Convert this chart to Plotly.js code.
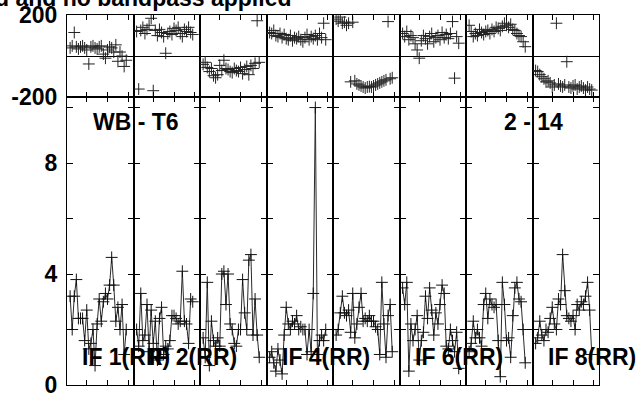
<!DOCTYPE html>
<html>
<head>
<meta charset="utf-8">
<script src="https://cdn.plot.ly/plotly-3.0.1.min.js"></script>
<style>
  html, body { margin: 0; padding: 0; background: #fff; }
  #chart { width: 642px; height: 394px; }
</style>
</head>
<body>
<div id="chart"></div>
<script>
// ---- data ----
const channels = [2,3,4,5,6,7,8,9,10,11,12,13,14,15,16,17,18,19,20,21,22,23,24,25,26,27,28,29];
const ifNames = ['IF 1(RR)', 'IF 2(RR)', 'IF 3(RR)', 'IF 4(RR)', 'IF 5(RR)', 'IF 6(RR)', 'IF 7(RR)', 'IF 8(RR)'];
const ifLabelShown = [true, true, false, true, false, true, false, true];

const amp1 = [3.2, 2.0, 3.2, 3.8, 2.4, 2.4, 2.4, 1.6, 2.7, 1.3, 1.5, 2.0, 0.7, 2.2, 3.1, 2.3, 3.0, 3.3, 3.1, 3.6, 4.6, 3.6, 2.3, 2.8, 2.0, 2.9, 1.1, 2.0];
const amp2 = [2.0, 1.4, 3.3, 1.6, 1.8, 2.9, 1.2, 2.7, 1.5, 2.3, 0.9, 2.4, 2.8, 1.1, 1.4, 1.3, 1.6, 2.5, 2.5, 2.4, 2.2, 2.3, 4.1, 2.3, 2.2, 1.5, 3.1, 3.0];
const amp3 = [1.7, 1.0, 3.7, 0.7, 2.3, 1.6, 1.4, 1.7, 1.4, 4.0, 4.1, 2.9, 4.0, 2.2, 2.0, 1.5, 1.4, 2.0, 2.0, 3.8, 2.6, 2.0, 4.5, 4.7, 1.8, 3.1, 1.8, 1.0];
const amp4 = [1.0, 1.2, 0.8, 0.5, 1.3, 0.9, 0.4, 1.8, 2.8, 2.2, 2.0, 2.3, 2.2, 2.5, 2.0, 2.1, 2.0, 2.0, 1.1, 2.0, 1.2, 3.3, 10.0, 1.1, 1.6, 1.8, 1.6, 2.0];
const amp5 = [1.8, 2.0, 2.6, 3.2, 2.6, 2.5, 2.7, 1.9, 3.3, 1.7, 2.2, 2.8, 3.3, 2.3, 2.4, 2.3, 2.5, 2.3, 2.3, 2.1, 2.0, 1.1, 3.7, 2.2, 1.0, 2.5, 2.9, 1.2];
const amp6 = [3.5, 2.9, 3.7, 0.5, 2.2, 1.6, 2.0, 2.5, 0.9, 1.6, 1.9, 3.2, 2.4, 3.5, 2.7, 1.8, 2.6, 2.2, 2.9, 3.6, 3.3, 1.4, 1.3, 2.0, 1.6, 1.2, 1.9, 0.6];
const amp7 = [1.2, 1.5, 2.3, 1.7, 2.0, 1.7, 1.4, 2.9, 3.3, 2.4, 3.1, 2.9, 2.8, 2.9, 1.6, 0.3, 3.7, 2.9, 1.6, 1.7, 1.0, 2.5, 3.5, 3.7, 3.1, 3.0, 2.0, 0.8];
const amp8 = [1.5, 1.7, 2.3, 1.8, 1.6, 2.0, 1.9, 2.4, 2.8, 2.2, 2.0, 3.1, 2.9, 4.7, 3.4, 2.5, 2.4, 2.3, 2.5, 2.0, 2.9, 2.7, 3.0, 2.9, 3.2, 3.7, 2.7, 1.1];

const phase1 = [40, 50, 115, 45, 35, 45, 50, 40, 30, -38, 45, 50, 40, 35, 45, 50, 10, -10, 30, 45, 40, 20, 55, -25, 20, 0, -50, -20];
const phase2 = [120, -160, 125, 140, 110, 130, 150, 184, -168, 125, 100, 130, 115, 95, 14, 110, 120, 105, 135, 125, 140, 110, 95, 130, 120, 140, 115, 105];
const phase3 = [-40, -30, -55, -75, -60, -95, -105, -90, -45, -70, -20, -60, -65, -75, -80, -60, -70, -75, -55, -85, -65, -50, -90, -45, -60, -35, 172, -30];
const phase4 = [115, 110, 125, 100, 95, 110, 90, 105, 85, 80, 100, 75, 90, 85, 95, 80, 70, 90, 105, 80, 95, 85, 100, 80, 110, 90, 160, 80];
const phase5 = [180, 170, 190, 160, 165, 150, 160, -125, 165, -120, -135, -140, -145, -150, -155, -150, -148, -150, -145, -140, -135, -130, -125, -120, -115, 168, -110, -105];
const phase6 = [110, 95, 120, 80, 100, 90, 60, 30, -10, 75, 100, 85, 60, 95, 110, 70, 90, 100, 80, 115, 90, 105, 85, 110, 168, -107, 95, 63];
const phase7 = [150, 120, 95, 110, 100, 130, 115, 105, 120, 125, 110, 130, 120, 140, 135, 125, 145, 160, 150, 140, 155, 130, 125, 110, 100, 95, 70, 46];
const phase8 = [-70, -75, -90, -100, -110, -125, -120, -130, -150, -140, 160, -135, -145, -150, -140, -27, -150, -155, -145, -140, -160, -150, -145, -155, -165, -150, -160, -165];

const ampTicks = [0, 2, 4, 6, 8, 10];
const ampTickText = ['0', '', '4', '', '8', ''];
const phaseTicks = [-200, 200];
const phaseTickText = ['-200', '200'];
const chanTicks = [10, 20, 30];
const titleText = 'd and no bandpass applied';
const baselineLabel = 'WB - T6';
const timeLabel = '2 - 14';

const ampSeries = [amp1, amp2, amp3, amp4, amp5, amp6, amp7, amp8];
const phaseSeries = [phase1, phase2, phase3, phase4, phase5, phase6, phase7, phase8];

// ---- build ----
const FONT = 'Liberation Sans, Arial, Helvetica, sans-serif';
const bigFont = { family: FONT, size: 23, color: '#000', weight: 'bold' };
const nPanels = ampSeries.length;
const split = 0.7776;

const traces = [];
const layout = {
  width: 642, height: 394,
  margin: { l: 67, r: 43, t: 15, b: 9, pad: 0 },
  paper_bgcolor: '#fff', plot_bgcolor: '#fff',
  showlegend: false,
  annotations: []
};

const markerStyle = (col) => ({
  symbol: 'cross-thin-open', size: 8.5, color: col,
  line: { width: 1, color: col }
});

for (let k = 0; k < nPanels; k++) {
  const na = k + 1, np = k + 1 + nPanels;
  const dom = [k / nPanels, (k + 1) / nPanels];
  const xBase = {
    domain: dom, range: [0.5, 32.5], tickvals: chanTicks,
    ticks: 'inside', ticklen: 5, tickcolor: '#000', tickwidth: 1,
    showticklabels: false, showline: true, linecolor: '#000', linewidth: 1,
    mirror: 'ticks', showgrid: false, zeroline: false, fixedrange: true
  };
  layout['xaxis' + na] = Object.assign({}, xBase, { anchor: 'y' + na });
  layout['xaxis' + np] = Object.assign({}, xBase, { anchor: 'y' + np });

  layout['yaxis' + na] = {
    domain: [0, split], range: [0, 10.37], tickvals: ampTicks, ticktext: ampTickText,
    ticks: 'inside', ticklen: 6, tickcolor: '#000', tickwidth: 1,
    showticklabels: k === 0, tickfont: bigFont, ticklabelstandoff: 4,
    ticklabeloverflow: 'allow',
    showline: true, linecolor: '#000', linewidth: 1, mirror: 'ticks',
    showgrid: false, zeroline: false, anchor: 'x' + na, fixedrange: true
  };
  layout['yaxis' + np] = {
    domain: [split, 1], range: [-200, 200], tickvals: phaseTicks, ticktext: phaseTickText,
    ticks: '', showticklabels: k === 0, tickfont: bigFont, ticklabelstandoff: 4,
    ticklabeloverflow: 'allow',
    showline: true, linecolor: '#000', linewidth: 1, mirror: true,
    showgrid: false, zeroline: true, zerolinecolor: '#000', zerolinewidth: 1,
    anchor: 'x' + np, fixedrange: true
  };

  traces.push({
    type: 'scatter', mode: 'lines+markers', x: channels, y: ampSeries[k],
    xaxis: 'x' + na, yaxis: 'y' + na,
    line: { color: '#2a2a2a', width: 1 }, marker: markerStyle('#111'),
    hoverinfo: 'skip'
  });
  traces.push({
    type: 'scatter', mode: 'markers', x: channels, y: phaseSeries[k],
    xaxis: 'x' + np, yaxis: 'y' + np,
    marker: markerStyle('#222'), hoverinfo: 'skip'
  });

  if (ifLabelShown[k]) {
    layout.annotations.push({
      text: ifNames[k], xref: 'x' + na + ' domain', yref: 'paper',
      x: 0, xshift: 13, xanchor: 'left', y: 0.0757, yanchor: 'middle',
      showarrow: false, font: bigFont
    });
  }
}

layout.annotations.push({
  text: baselineLabel, xref: 'paper', yref: 'paper', x: 0.0445, xanchor: 'left',
  y: 0.711, yanchor: 'middle', showarrow: false, font: bigFont
});
layout.annotations.push({
  text: timeLabel, xref: 'paper', yref: 'paper', x: 0.8171, xanchor: 'left',
  y: 0.711, yanchor: 'middle', showarrow: false, font: bigFont
});
layout.annotations.push({
  text: titleText, xref: 'paper', yref: 'paper', x: 0.4248, xanchor: 'right',
  y: 1.0459, yanchor: 'middle', showarrow: false, font: bigFont
});

Plotly.newPlot('chart', traces, layout, { staticPlot: true, displayModeBar: false });
</script>
</body>
</html>
